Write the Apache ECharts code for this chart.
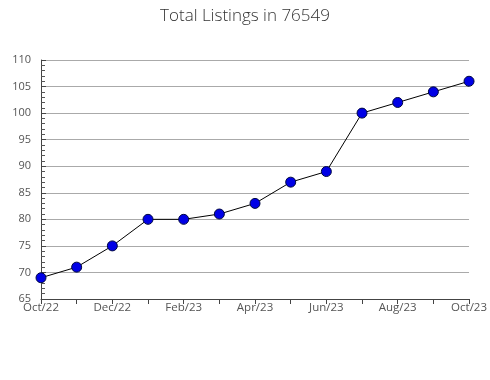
<!DOCTYPE html>
<html><head><meta charset="utf-8">
<script src="https://cdn.jsdelivr.net/npm/echarts@6/dist/echarts.min.js"></script>
<style>html,body{margin:0;padding:0;background:#fff}#c{width:490px;height:380px}</style>
</head><body><div id="c"></div>
<script>
const categories = ['Oct/22','Nov/22','Dec/22','Jan/23','Feb/23','Mar/23','Apr/23','May/23','Jun/23','Jul/23','Aug/23','Sep/23','Oct/23'];
const listings = [69, 71, 75, 80, 80, 81, 83, 87, 89, 100, 102, 104, 106];
const chart = echarts.init(document.getElementById('c'), null, {renderer:'canvas'});
chart.setOption({
  animation:false,
  title:{text:'Total Listings in 76549', left:'center', top:3,
    textStyle:{fontFamily:'Open Sans', fontWeight:300, fontSize:17, color:'#333'}},
  grid:{left:41, right:19, top:60, bottom:81, containLabel:false},
  xAxis:{type:'category', data:categories, boundaryGap:false,
    axisLine:{lineStyle:{color:'#444', width:1}},
    axisTick:{show:true, interval:0, length:5, lineStyle:{color:'#444'}},
    axisLabel:{interval:1, color:'#555', fontFamily:'Open Sans', fontSize:11.5, margin:3},
    splitLine:{show:false}},
  yAxis:{type:'value', min:65, max:110, interval:5,
    axisLine:{show:true, lineStyle:{color:'#444', width:1}},
    axisTick:{show:true, inside:true, length:5, lineStyle:{color:'#444'}},
    minorTick:{show:true, splitNumber:5, length:4, lineStyle:{color:'#555'}},
    axisLabel:{color:'#555', fontFamily:'Open Sans', fontSize:11, margin:10},
    splitLine:{show:true, lineStyle:{color:'#aaa', width:1}}},
  series:[{type:'line', data:listings, symbol:'circle', symbolSize:10,
    lineStyle:{color:'#000', width:1},
    itemStyle:{color:'#0000e6', borderColor:'#000840', borderWidth:1}}]
});
</script></body></html>
